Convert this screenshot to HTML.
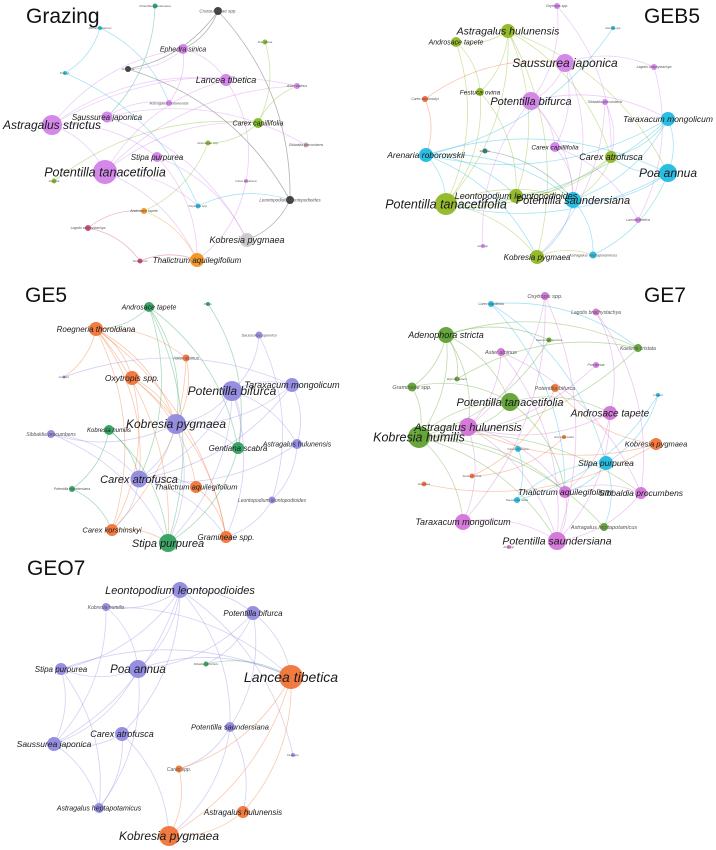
<!DOCTYPE html>
<html><head><meta charset="utf-8">
<style>
html,body{margin:0;padding:0;background:#fff;}
svg{display:block;}
text{font-family:"Liberation Sans",sans-serif;}
</style></head>
<body>
<svg id="fig" width="716" height="850" viewBox="0 0 716 850" xmlns="http://www.w3.org/2000/svg">
<rect width="716" height="850" fill="#fff"/>
</svg>
<script>
// Panel titles
const titles = [["Grazing",26,23,"start"],["GEB5",700,23,"end"],["GE5",25,302,"start"],["GE7",686,302,"end"],["GEO7",27,575,"start"]];
// colours
const VI="#d07ee8", GR="#7cbb1f", CY="#1ab8e0", DK="#333333", OR="#f07030", PU="#8e86e0", GN="#2a9e5a", OG="#f0901a";
// Nodes: [label, x, y, radius, colour, fontSize]
const grazingNodes = [
["Crassulaceae spp.",218,11,4,DK,4.5],["Potentilla saundersiana",155,6,2.5,"#1aa080",3],["Dimorphostemon",100,28,2,CY,3],
["Ephedra sinica",183,49,5,VI,7],["Poa annua",265,42,2.5,GR,3],["Anemone",128,69,3,DK,3],["Poa sp.",65,73,2,CY,3],
["Lancea tibetica",226,80,6,VI,9],["Aster alpinus",297,86,3,VI,3.5],["Astragalus hulunensis",169,103,3,VI,4],
["Saussurea japonica",107,117,5.5,VI,8],["Astragalus strictus",52,125,10,VI,12],["Carex capillifolia",258,123,5,GR,7],
["Gramineae spp.",208,143,2.5,GR,3],["Sibbaldia procumbens",306,145,2.5,"#c9a0a8",3.5],["Stipa purpurea",157,157,5,VI,8],
["Potentilla tanacetifolia",105,172,12,VI,12.5],["Festuca",54,181,2.5,GR,3],["Carex atrofusca",246,181,2,VI,3],
["Leontopodium leontopodioides",290,200,4,DK,4.5],["Oxytropis spp.",198,206,2.5,CY,3],["Androsace tapete",144,211,3,OG,3.5],
["Lagotis brachystachya",88,228,3,"#d0406a",3.5],["Kobresia pygmaea",247,240,7,"#c8c8c8",9],["Thalictrum aquilegifolium",197,260,7,OG,8],
["Taraxacum",140,261,2.5,"#d0406a",3]];
const grazingEdges = [[0,3],[0,5],[0,19],[5,19],[3,5],[2,6],[6,20],[2,9],[1,10],[11,3],[11,7],[11,8],[16,7],[16,12],[16,8],[10,9],[3,9],[10,14],[11,15],[15,23],[4,12],[12,8],[12,13],[13,21],[16,24],[7,18],[18,24],[20,19],[19,23],[21,24],[22,25],[22,21],[25,24],[15,24],[11,16],[10,23],[16,20],[17,12],[3,7]];
const geb5Nodes = [
["Oxytropis spp.",557,6,3,VI,3.5],["Astragalus hulunensis",508,31,7,"#8db51c",10.5],["Androsace tapete",456,42,5,"#8db51c",7],
["Artemisia spp.",613,28,2,CY,2.5],["Saussurea japonica",565,63,9,VI,12],["Lagotis brachystachya",654,67,3,VI,3.5],
["Festuca ovina",480,92,4,"#8db51c",6.5],["Carex korshinskyi",425,99,3,"#f06030",3.5],["Potentilla bifurca",531,101,9,VI,11],
["Sibbaldia procumbens",605,102,3,VI,3.5],["Taraxacum mongolicum",668,119,7,CY,8.5],["Carex capillifolia",555,147,5,VI,6.5],
["Stipa spp.",485,151,2.5,"#1a7a70",2.5],["Arenaria roborowskii",426,155,7,CY,8.5],["Carex atrofusca",611,157,6,"#8db51c",9],
["Poa annua",668,173,9,CY,12],["Leontopodium leontopodioides",516,196,7,"#8db51c",9],["Potentilla tanacetifolia",446,204,11,"#8db51c",12.5],
["Potentilla saundersiana",573,200,8,CY,11],["Lancea tibetica",638,220,3,VI,3.5],["Aster spp.",483,246,2,VI,2.5],
["Kobresia pygmaea",537,257,7,"#8db51c",8],["Astragalus heptapotamicus",593,255,3.5,CY,4]];
const geb5Edges = [[1,2],[1,6],[1,17],[2,17],[2,6],[6,17],[1,16],[1,21],[1,14],[1,15],[6,16],[4,8],[4,11],[4,18],[4,5],[0,8],[0,14],[3,13],[5,19],[8,18],[8,10],[8,11],[9,14],[9,21],[10,13],[10,15],[10,18],[10,14],[10,17],[13,15],[13,17],[13,18],[13,21],[15,17],[15,18],[15,14],[14,17],[14,18],[14,16],[16,17],[16,18],[17,18],[17,21],[18,21],[21,22],[18,22],[11,19],[11,18],[7,13],[7,4],[12,18],[20,8],[15,22],[13,16]];
const ge5Nodes = [
["Androsace tapete",149,307,5,GN,7],["Poa sp.",208,304,2,GN,2.5],["Roegneria thoroldiana",96,329,7,OR,8],
["Saussurea japonica",259,335,3.5,PU,4],["Aster alpinus",186,358,3.5,OR,4.5],["Aconitum",64,377,1.5,PU,2.5],
["Oxytropis spp.",132,378,7,OR,8.5],["Potentilla bifurca",232,391,10,PU,12],["Taraxacum mongolicum",292,385,7,PU,9],
["Kobresia pygmaea",176,424,10,PU,12],["Kobresia humilis",109,430,5,GN,6],["Sibbaldia procumbens",51,434,4,PU,5],
["Gentiana scabra",238,448,6,GN,8],["Astragalus hulunensis",297,444,5,PU,7],["Carex atrofusca",139,479,8.5,PU,11],
["Thalictrum aquilegifolium",196,487,6,OR,7.5],["Potentilla saundersiana",72,489,3,GN,3.5],["Leontopodium leontopodioides",272,500,3.5,PU,5],
["Carex korshinskyi",112,530,6,OR,7.5],["Gramineae spp.",226,537,6,OR,8],["Stipa purpurea",168,543,9,GN,11]];
const ge5Edges = [[0,12],[0,20],[0,9],[0,14],[0,2],[1,12],[2,4],[2,6],[2,18],[2,19],[2,14],[2,9],[2,5],[2,20],[6,19],[6,15],[6,18],[6,9],[4,9],[4,18],[3,7],[3,17],[5,8],[7,8],[7,9],[7,14],[7,12],[7,20],[7,13],[7,19],[8,13],[8,9],[8,14],[9,14],[9,11],[9,12],[9,20],[10,14],[10,16],[10,20],[11,14],[11,20],[12,20],[13,17],[13,14],[14,15],[14,19],[15,19],[16,18],[17,19],[14,18],[18,20]];
const ge7Nodes = [
["Oxytropis spp.",545,296,4,"#d070d8",5.5],["Carex capillifolia",491,304,3,CY,3.5],["Lagotis brachystachya",596,312,3.5,"#d070d8",5],
["Adenophora stricta",446,335,8,"#5aa02c",9],["Saussurea japonica",549,340,2.5,"#5aa02c",3],["Aster alpinus",501,352,4,"#d070d8",5.5],
["Koeleria cristata",638,348,4,"#5aa02c",5],["Poa annua",596,365,3,"#d070d8",3.5],["Gramineae spp.",412,387,4.5,"#5aa02c",5.5],
["Elymus nutans",457,379,2.5,"#5aa02c",3],["Potentilla bifurca",555,388,4,OR,5.5],["Lonicera",658,395,2,CY,2.5],
["Potentilla tanacetifolia",510,402,9,"#5aa02c",11],["Androsace tapete",610,413,7,"#d070d8",10],["Astragalus hulunensis",468,427,9,"#d070d8",11],
["Kobresia humilis",419,437,11,"#5aa02c",12.5],["Anemone rivularis",564,437,2,OR,2.5],["Kobresia pygmaea",656,444,6,OR,7.5],
["Carex atrofusca",518,449,3,CY,3],["Stipa purpurea",606,463,7,CY,8.5],["Festuca ovina",472,476,2.5,OR,3],
["Gentiana",424,484,2.5,OR,3],["Thalictrum aquilegifolium",565,492,6,"#d070d8",8.5],["Sibbaldia procumbens",641,493,6,"#d070d8",8.5],
["Saussurea stella",517,500,3,CY,3],["Taraxacum mongolicum",463,522,8,"#d070d8",9],["Astragalus heptapotamicus",604,527,4,"#5aa02c",5.5],
["Potentilla saundersiana",557,541,9,"#d070d8",10.5],["Aster spp.",509,547,2,"#d070d8",2.5]];
const ge7Edges = [[1,6],[1,19],[1,22],[3,8],[3,9],[3,12],[3,15],[3,4],[3,6],[3,14],[8,15],[8,12],[15,12],[15,14],[15,27],[15,25],[15,22],[15,26],[15,23],[9,6],[4,15],[0,25],[0,14],[0,27],[2,13],[2,23],[5,14],[5,27],[6,15],[12,13],[12,14],[13,14],[13,22],[13,27],[14,25],[14,27],[14,22],[11,24],[11,19],[18,24],[19,22],[19,26],[17,10],[17,14],[17,21],[16,20],[22,23],[22,27],[25,27],[23,27],[7,15],[10,20],[12,22],[24,19],[5,23]];
const geo7Nodes = [
["Leontopodium leontopodioides",180,590,8,PU,11],["Kobresia humilis",106,607,4,PU,5],["Potentilla bifurca",253,613,7,PU,8],
["Sibbaldia procumbens",206,664,2.5,"#2a9e5a",2.5],["Stipa purpurea",61,669,6,PU,8],["Poa annua",138,669,9,PU,11.5],
["Lancea tibetica",291,677,12,OR,14],["Potentilla saundersiana",230,727,5,PU,7.5],["Carex atrofusca",122,734,7,PU,9],
["Saussurea japonica",54,744,7,PU,8.5],["Carex spp.",293,755,2,PU,2.5],["Carex spp.",179,769,3.5,OR,5],
["Astragalus heptapotamicus",99,808,5,PU,7],["Astragalus hulunensis",243,812,6,OR,8],["Kobresia pygmaea",169,836,10,OR,12]];
const geo7Edges = [[0,1],[0,2],[0,5],[0,9],[0,7],[0,8],[0,10],[0,4],[1,5],[1,6],[2,6],[2,7],[2,5],[2,3],[4,6],[4,12],[4,9],[5,9],[5,12],[5,6],[5,4],[8,9],[8,12],[9,12],[7,11],[7,14],[7,13],[6,14],[6,13],[6,11],[11,14],[13,14],[8,14],[3,6],[1,9]];

const panels=[["grazing",grazingNodes,grazingEdges],["geb5",geb5Nodes,geb5Edges],["ge5",ge5Nodes,ge5Edges],["ge7",ge7Nodes,ge7Edges],["geo7",geo7Nodes,geo7Edges]];
const NS="http://www.w3.org/2000/svg";
const svg=document.getElementById("fig");
function mk(t,p){const e=document.createElementNS(NS,t);for(const k in p)e.setAttribute(k,p[k]);return e;}
panels.forEach(([pid,nodes,edges],pi)=>{
  const g=mk("g",{});
  
  
  svg.appendChild(g);
  const eg=mk("g",{fill:"none"});
  
  
  g.appendChild(eg);
  edges.forEach(([a,b])=>{
    const A=nodes[a],B=nodes[b];
    const dx=B[1]-A[1],dy=B[2]-A[2];
    const cx=(A[1]+B[1])/2+dy*0.2,cy=(A[2]+B[2])/2-dx*0.2;
    const p=mk("path",{d:`M${A[1]},${A[2]} Q${cx},${cy} ${B[1]},${B[2]}`,stroke:A[4],"stroke-opacity":0.38,"stroke-width":0.8});
    
    
    eg.appendChild(p);
  });
  nodes.forEach(n=>{
    const c=mk("circle",{cx:n[1],cy:n[2],r:n[3],fill:n[4],"fill-opacity":0.92});
    
    
    g.appendChild(c);
  });
  nodes.forEach(n=>{
    const t=mk("text",{x:n[1],y:n[2]+n[5]*0.35,"font-size":n[5],"font-style":"italic","text-anchor":"middle",fill:n[5]<6?"#555":"#1a1a1a"});
    t.textContent=n[0];
    
    
    g.appendChild(t);
  });
  const T=titles[pi];
  const tt=mk("text",{x:T[1],y:T[2],"font-size":21,"text-anchor":T[3],fill:"#111"});
  tt.textContent=T[0];
  
  
  g.appendChild(tt);
});
</script>
</body></html>
